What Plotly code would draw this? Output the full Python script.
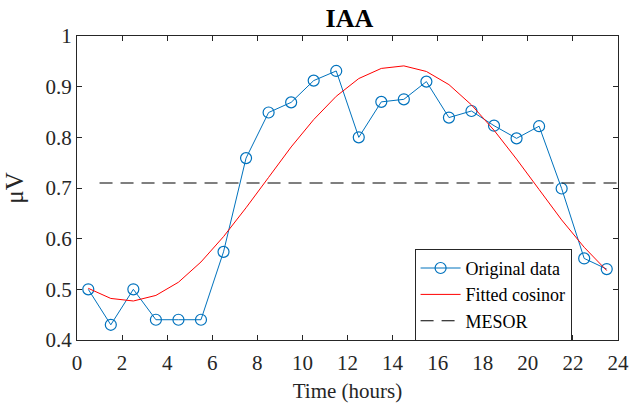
import plotly.graph_objects as go

hours = [0.5, 1.5, 2.5, 3.5, 4.5, 5.5, 6.5, 7.5, 8.5, 9.5, 10.5, 11.5,
         12.5, 13.5, 14.5, 15.5, 16.5, 17.5, 18.5, 19.5, 20.5, 21.5, 22.5, 23.5]
original = [0.500, 0.430, 0.500, 0.440, 0.440, 0.440, 0.574, 0.759, 0.849, 0.869, 0.912, 0.931,
            0.800, 0.870, 0.875, 0.910, 0.839, 0.852, 0.823, 0.798, 0.822, 0.699, 0.561, 0.540]
fitted = [0.502, 0.482, 0.477, 0.488, 0.514, 0.554, 0.604, 0.661, 0.721, 0.781, 0.835, 0.881,
          0.916, 0.936, 0.941, 0.930, 0.904, 0.864, 0.814, 0.757, 0.697, 0.637, 0.583, 0.537]
mesor_x = [1, 24]
mesor_value = 0.71

x_ticks = list(range(0, 25, 2))
y_ticks = [0.4, 0.5, 0.6, 0.7, 0.8, 0.9, 1.0]
y_ticklabels = ["0.4", "0.5", "0.6", "0.7", "0.8", "0.9", "1"]

font = "Liberation Serif, Times New Roman, serif"
axcol = "#262626"

fig = go.Figure()
fig.add_trace(go.Scatter(
    x=hours, y=original, mode="lines+markers", name="Original data",
    line=dict(color="#0072BD", width=1),
    marker=dict(symbol="circle-open", size=11, color="#0072BD", line=dict(width=1.2)),
))
fig.add_trace(go.Scatter(
    x=hours, y=fitted, mode="lines", name="Fitted cosinor",
    line=dict(color="#FF0000", width=1),
))
fig.add_trace(go.Scatter(
    x=mesor_x, y=[mesor_value] * len(mesor_x), mode="lines", name="MESOR",
    line=dict(color="#000000", width=1.1, dash="13px,8px"),
))

axis_common = dict(
    showgrid=False, zeroline=False, showline=True, linecolor=axcol, linewidth=1,
    mirror="ticks", ticks="inside", ticklen=5, tickcolor=axcol, tickwidth=1,
    tickfont=dict(family=font, size=21, color=axcol), automargin=False,
)

fig.update_layout(
    width=640, height=406,
    margin=dict(l=77, r=22, t=36, b=66),
    paper_bgcolor="white", plot_bgcolor="white",
    title=dict(text="<b>IAA</b>", x=0.546, xanchor="center", y=0.957, yanchor="middle",
               font=dict(family=font, size=26, color="#000000")),
    xaxis=dict(range=[0, 24], tickvals=x_ticks, ticklabelstandoff=4,
               title=dict(text="Time (hours)", font=dict(family=font, size=21, color=axcol), standoff=9),
               **axis_common),
    yaxis=dict(range=[0.4, 1.0], tickvals=y_ticks, ticktext=y_ticklabels,
               title=dict(text="μV", font=dict(family=font, size=25, color=axcol), standoff=14),
               **axis_common),
    legend=dict(x=0.624, y=0.30, xanchor="left", yanchor="top",
                bgcolor="white", bordercolor=axcol, borderwidth=1,
                font=dict(family=font, size=18, color="#000000"),
                tracegroupgap=0, itemwidth=40),
    showlegend=True,
)

fig.write_html("out.html", config={"displayModeBar": False},
               post_script="document.body.style.margin='0';")
